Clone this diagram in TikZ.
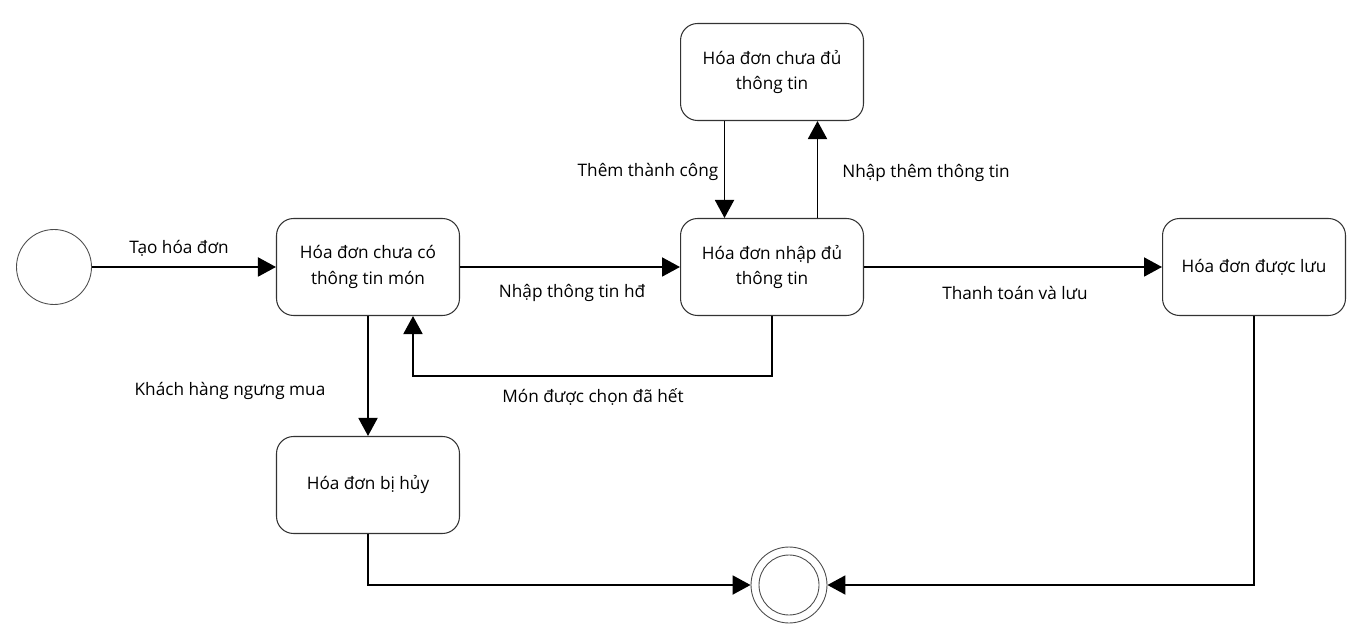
\documentclass[tikz,border=0pt]{standalone}
\usepackage{fontspec}
\setmainfont{Open Sans}
\usetikzlibrary{arrows.meta}
\tikzset{
  state/.style={draw=black!80, line width=0.6pt, rounded corners=0.34cm,
    minimum width=3.66cm, minimum height=1.94cm, align=center,
    font=\fontsize{9.8}{14.6}\selectfont},
  lbl/.style={font=\fontsize{9.8}{14.6}\selectfont},
  flow/.style={line width=1.1pt, -{Triangle[length=0.36cm,width=0.38cm]}},
  pseudo/.style={circle, draw=black!70, line width=0.5pt, inner sep=0pt},
}
\begin{document}
\begin{tikzpicture}[x=0.02cm,y=-0.02cm]
\useasboundingbox (0,0) rectangle (1358,638);

\node[pseudo, minimum size=1.5cm] (init) at (54,267) {};
\node[pseudo, minimum size=1.52cm] (fin) at (789,585) {};
\draw[black!70, line width=0.5pt] (fin.center) circle[radius=0.6cm];

\node[state] (moi) at (368,267) {Hóa đơn chưa có\\thông tin món};
\node[state] (du) at (772,267) {Hóa đơn nhập đủ\\thông tin};
\node[state] (thieu) at (772,72) {Hóa đơn chưa đủ\\thông tin};
\node[state] (luu) at (1254,267) {Hóa đơn được lưu};
\node[state] (huy) at (368,485) {Hóa đơn bị hủy};

\draw[flow] (init) -- (moi);
\draw[flow] (moi) -- (du);
\draw[flow] (du) -- (luu);
\draw[flow] (moi) -- (huy);
\draw[flow] ([xshift=-0.95cm]thieu.south) -- ([xshift=-0.95cm]du.north);
\draw[flow] ([xshift=0.91cm]du.north) -- ([xshift=0.91cm]thieu.south);
\draw[flow] (du.south) -- ++(0,60) -| ([xshift=0.9cm]moi.south);
\draw[flow] (huy.south) |- (fin.west);
\draw[flow] (luu.south) |- (fin.east);

\node[lbl] (l1) at (179,248) {Tạo hóa đơn};
\node[lbl] (l2) at (572,293) {Nhập thông tin hđ};
\node[lbl] (l3) at (593,397) {Món được chọn đã hết};
\node[lbl] (l4) at (230,391) {Khách hàng ngưng mua};
\node[lbl] (l5) at (648,172) {Thêm thành công};
\node[lbl] (l6) at (926,173) {Nhập thêm thông tin};
\node[lbl] (l7) at (1015,293) {Thanh toán và lưu};
\end{tikzpicture}
\end{document}
